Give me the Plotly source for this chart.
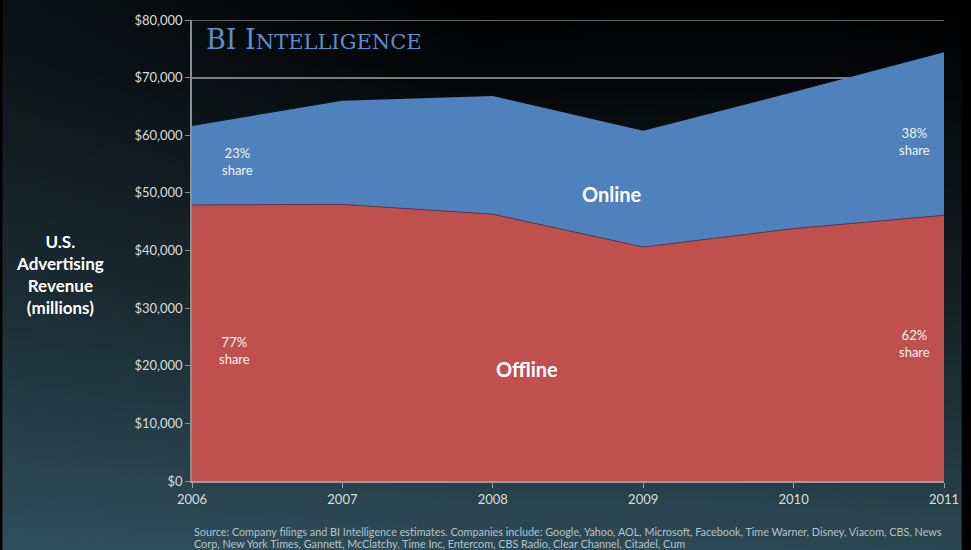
import base64
import plotly.graph_objects as go

# U.S. advertising revenue, $ millions
years = [2006, 2007, 2008, 2009, 2010, 2011]
offline = [47900, 48000, 46300, 40600, 43800, 46100]
online = [13700, 18000, 20500, 20200, 23700, 28300]

y_ticks = [0, 10000, 20000, 30000, 40000, 50000, 60000, 70000, 80000]
y_tick_text = ["${:,}".format(v) for v in y_ticks]

source_lines = [
    "Source: Company filings and BI Intelligence estimates. Companies include: Google, Yahoo, AOL, "
    "Microsoft, Facebook, Time Warner, Disney, Viacom, CBS, News",
    "Corp, New York Times, Gannett, McClatchy, Time Inc, Entercom, CBS Radio, Clear Channel, Citadel, Cum",
]

W, H = 971, 550
L, R, T, B = 192, 18, 20, 69
PW, PH = W - L - R, H - T - B

RED = "#c0504d"
BLUE = "#4f81bd"
TICK = "#dcdcdc"
GRID = "#7c7c7c"
FONT = "Lato, 'Open Sans', sans-serif"

# dark slide background: black at the top fading to slate teal at the bottom
svg = f"""<svg xmlns='http://www.w3.org/2000/svg' width='{W}' height='{H}'>
<defs>
<linearGradient id='g' x1='0' y1='0' x2='0' y2='1'>
<stop offset='0' stop-color='#000000'/>
<stop offset='0.12' stop-color='#030506'/>
<stop offset='0.55' stop-color='#152228'/>
<stop offset='1' stop-color='#2c4b56'/>
</linearGradient>
<linearGradient id='h' x1='0' y1='0' x2='1' y2='0'>
<stop offset='0' stop-color='#3a6070' stop-opacity='0.18'/>
<stop offset='0.5' stop-color='#3a6070' stop-opacity='0'/>
<stop offset='1' stop-color='#000' stop-opacity='0.05'/>
</linearGradient>
</defs>
<rect width='{W}' height='{H}' fill='url(#g)'/>
<rect width='{W}' height='{H}' fill='url(#h)'/>
</svg>"""
bg_uri = "data:image/svg+xml;base64," + base64.b64encode(svg.encode()).decode()

fig = go.Figure()
fig.add_trace(go.Scatter(
    x=years, y=offline, name="Offline", stackgroup="rev", mode="lines",
    line=dict(width=1, color="#5a3a48"), fillcolor=RED,
))
fig.add_trace(go.Scatter(
    x=years, y=online, name="Online", stackgroup="rev", mode="lines",
    line=dict(width=0, color=BLUE), fillcolor=BLUE,
))

def share_label(x, y, text, xshift=0):
    fig.add_annotation(x=x, y=y, xref="x", yref="y", text=text, showarrow=False,
                       font=dict(family=FONT, size=13, color="#f2f2f2"),
                       align="center", xshift=xshift)

share_label(2006, 55500, "23%<br>share", xshift=45)
share_label(2006, 22600, "77%<br>share", xshift=42)
share_label(2011, 59000, "38%<br>share", xshift=-30)
share_label(2011, 23900, "62%<br>share", xshift=-30)

fig.add_annotation(x=2008.79, y=49800, text="<b>Online</b>", showarrow=False,
                   font=dict(family=FONT, size=20, color="#ffffff"))
fig.add_annotation(x=2008.23, y=19500, text="<b>Offline</b>", showarrow=False,
                   font=dict(family=FONT, size=20, color="#ffffff"))

# top gridline at the range limit
fig.add_shape(type="line", xref="paper", yref="y", x0=0, x1=1, y0=80000, y1=80000,
              line=dict(color=GRID, width=1.5), layer="below")

fig.add_annotation(
    x=0.016, y=0.9585, xref="paper", yref="paper", xanchor="left", yanchor="middle",
    text="BI I<span style='font-size:21px'>NTELLIGENCE</span>", showarrow=False,
    font=dict(family="'DejaVu Serif', 'Liberation Serif', serif", size=27, color="#5f8ecf"),
)

fig.add_annotation(
    x=-0.176, y=0.447, xref="paper", yref="paper", xanchor="center", yanchor="middle",
    text="<b>U.S.<br>Advertising<br>Revenue<br>(millions)</b>", showarrow=False,
    font=dict(family=FONT, size=17, color="#ffffff"), align="center",
)

# two-line source note below the axis
for i, line in enumerate(source_lines):
    fig.add_annotation(
        x=0.0, y=(H - B - (531 + 12 * i)) / PH,
        xref="paper", yref="paper", xanchor="left", yanchor="middle",
        text=line, showarrow=False, align="left",
        font=dict(family=FONT, size=10.8, color="#b8c2c8"),
    )

fig.add_layout_image(
    source=bg_uri, xref="paper", yref="paper",
    x=-L / PW, y=1 + T / PH, sizex=W / PW, sizey=H / PH,
    xanchor="left", yanchor="top", sizing="stretch", layer="below",
)

fig.update_layout(
    width=W, height=H,
    margin=dict(l=L, r=R, t=T, b=B),
    paper_bgcolor="#000000", plot_bgcolor="rgba(0,0,0,0)",
    showlegend=False,
    font=dict(family=FONT, color=TICK),
    xaxis=dict(
        range=[2006, 2011], tickvals=years, ticktext=[str(y) for y in years],
        showgrid=False, zeroline=False, showline=True, linecolor="#9aa0a6", linewidth=2,
        ticks="outside", ticklen=5, tickcolor="#9aa0a6",
        tickfont=dict(family=FONT, size=13, color=TICK),
    ),
    yaxis=dict(
        range=[0, 80000], tickvals=y_ticks, ticktext=y_tick_text,
        showgrid=True, gridcolor=GRID, gridwidth=1.5, zeroline=False,
        showline=True, linecolor="#8a8f94", linewidth=1.5,
        ticks="outside", ticklen=5, tickcolor="#8a8f94",
        tickfont=dict(family=FONT, size=13, color=TICK),
    ),
)

fig.write_html("out.html")
